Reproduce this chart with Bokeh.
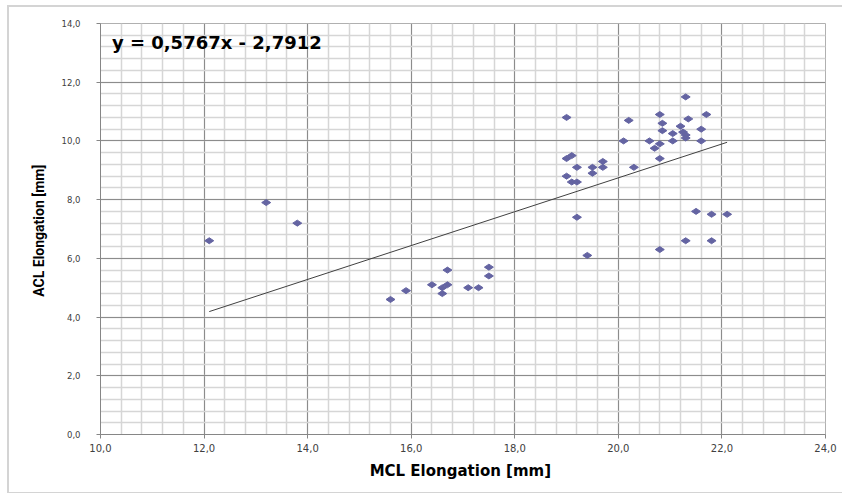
import numpy as np
from bokeh.plotting import figure
from bokeh.models import (ColumnDataSource, Range1d, SingleIntervalTicker,
                          Label, InlineStyleSheet)
from bokeh.embed import file_html
from bokeh.resources import INLINE

# ---- data ----
mcl_elongation = [
    12.1, 13.2, 13.8,
    15.6, 15.9, 16.4, 16.6, 16.7, 16.6, 16.7, 17.1, 17.3, 17.5, 17.5,
    19.4, 20.8, 21.3, 21.8, 21.5, 21.8, 22.1, 19.2,
    19.0, 19.0, 19.1, 19.2, 19.0, 19.1, 19.2, 19.5, 19.5, 19.7, 19.7, 20.3, 20.1, 20.2,
    20.6, 20.7, 20.8, 20.8, 20.8, 20.85, 20.85, 21.05, 21.05, 21.2, 21.25, 21.3, 21.3,
    21.35, 21.6, 21.6, 21.7, 21.3,
]
acl_elongation = [
    6.6, 7.9, 7.2,
    4.6, 4.9, 5.1, 5.0, 5.1, 4.8, 5.6, 5.0, 5.0, 5.7, 5.4,
    6.1, 6.3, 6.6, 6.6, 7.6, 7.5, 7.5, 7.4,
    10.8, 9.4, 9.5, 9.1, 8.8, 8.6, 8.6, 9.1, 8.9, 9.3, 9.1, 9.1, 10.0, 10.7,
    10.0, 9.75, 9.9, 9.4, 10.9, 10.6, 10.35, 10.25, 10.0, 10.5, 10.3, 10.2, 10.1,
    10.75, 10.4, 10.0, 10.9, 11.5,
]

trend_slope = 0.5767
trend_intercept = -2.7912

x_ticks = [10, 12, 14, 16, 18, 20, 22, 24]
x_tick_labels = ["10,0", "12,0", "14,0", "16,0", "18,0", "20,0", "22,0", "24,0"]
y_ticks = [0, 2, 4, 6, 8, 10, 12, 14]
y_tick_labels = ["0,0", "2,0", "4,0", "6,0", "8,0", "10,0", "12,0", "14,0"]

x_title = "MCL Elongation  [mm]"
y_title = "ACL Elongation  [mm]"

# ---- figure ----
p = figure(width=842, height=493, output_backend="svg", toolbar_location=None,
           x_range=Range1d(x_ticks[0], x_ticks[-1]),
           y_range=Range1d(y_ticks[0], y_ticks[-1]),
           min_border_left=100, min_border_right=17,
           min_border_top=23, min_border_bottom=59)
p.background_fill_color = "white"
p.border_fill_color = "white"
p.outline_line_color = "#b0b0b0"
p.outline_line_width = 1

for ax, ticks, labels in ((p.xaxis[0], x_ticks, x_tick_labels),
                          (p.yaxis[0], y_ticks, y_tick_labels)):
    ax.ticker = SingleIntervalTicker(interval=2, num_minor_ticks=5)
    ax.major_label_overrides = {t: l for t, l in zip(ticks, labels)}
    ax.major_label_text_font = "DejaVu Sans"
    ax.major_label_text_color = "#404040"
    ax.axis_line_color = "#868686"
    ax.major_tick_line_color = "#868686"
    ax.major_tick_out = 4
    ax.major_tick_in = 0
    ax.minor_tick_line_color = None
    ax.axis_label_text_color = "black"
    ax.axis_label_text_font_style = "bold"

p.xaxis.major_label_text_font_size = "10px"
p.yaxis.major_label_text_font_size = "8.5px"

p.xaxis.axis_label = x_title
p.xaxis.axis_label_text_font = "DejaVu Sans"
p.xaxis.axis_label_text_font_size = "15px"
p.xaxis.major_label_standoff = 5
p.xaxis.axis_label_standoff = 7

p.yaxis.axis_label = y_title
p.yaxis.axis_label_text_font = "Roboto"
p.yaxis.axis_label_text_font_size = "14px"
p.yaxis.major_label_standoff = 16
p.yaxis.axis_label_standoff = 12

for g in (p.xgrid[0], p.ygrid[0]):
    g.ticker = SingleIntervalTicker(interval=2, num_minor_ticks=5)
    g.grid_line_color = "#8c8c8c"
    g.grid_line_width = 1
    g.minor_grid_line_color = "#d6d6d6"
    g.minor_grid_line_width = 1.5

src = ColumnDataSource(dict(x=mcl_elongation, y=acl_elongation))

# trend line over the range of the data
x_fit = [min(mcl_elongation), max(mcl_elongation)]
y_fit = [trend_slope * v + trend_intercept for v in x_fit]
p.line(x_fit, y_fit, line_color="#404040", line_width=1)

p.scatter("x", "y", source=src, marker="diamond", size=9, angle=np.pi / 2,
          fill_color="#6464a2", line_color="#6464a2")

eq_text = ("y = " + f"{trend_slope:.4f}".replace(".", ",") + "x - "
           + f"{abs(trend_intercept):.4f}".replace(".", ","))
p.add_layout(Label(x=10.22, y=13.36, text=eq_text, text_font="DejaVu Sans",
                   text_font_style="bold", text_font_size="18px",
                   text_color="black", text_baseline="middle", text_align="left"))

# outer chart border (drawn by CSS over the canvas)
p.stylesheets = [InlineStyleSheet(css="""
:host { position: relative; }
:host::after {
  content: "";
  position: absolute;
  left: 7px; top: 5px; width: 850px; height: 485px;
  border: 2px solid #d4d4d4;
  pointer-events: none;
  z-index: 10;
}
""")]

open("out.html", "w").write(file_html(p, INLINE))
